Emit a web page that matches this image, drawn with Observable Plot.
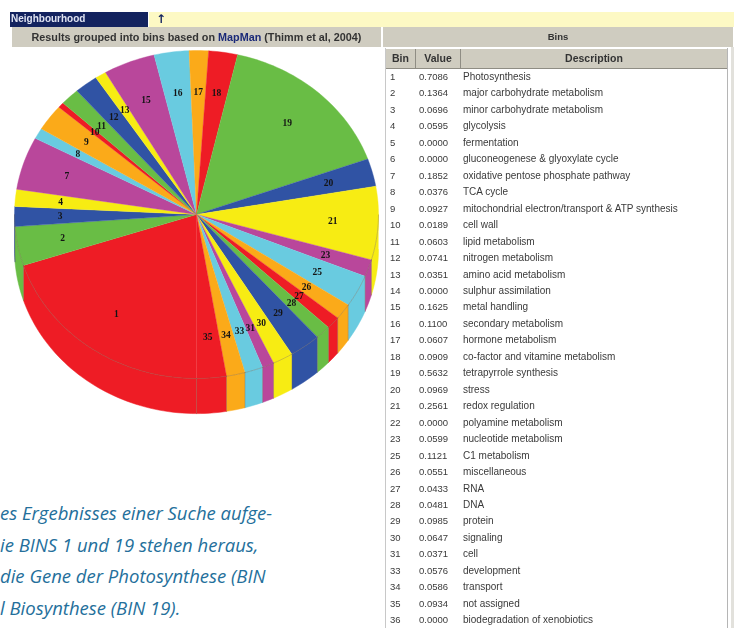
<!DOCTYPE html>
<html><head><meta charset="utf-8">
<script src="https://cdn.jsdelivr.net/npm/d3@7"></script>
<script src="https://cdn.jsdelivr.net/npm/@observablehq/plot@0.6"></script>
<style>
html,body{margin:0;padding:0;background:#fff;overflow:hidden}
#page{position:relative;width:744px;height:628px;overflow:hidden;font-family:"Liberation Sans",Arial,sans-serif}
#page>div,#chart{position:absolute}
#chart{left:0;top:0}
#chart svg{display:block;filter:blur(.6px)}
.ui{filter:blur(.7px)}
#nb{left:10px;top:12px;width:138px;height:15px;background:#13235f;color:#dfe3f2;font:bold 10px/14px "Liberation Sans";padding-left:1px;box-sizing:border-box}
#yb{left:149px;top:12px;width:585px;height:15px;background:#fdf9c4;color:#13235f;font:bold 12px/14px "DejaVu Sans";padding-left:7px;box-sizing:border-box}
#h1{left:12px;top:27px;width:369px;height:20px;background:#cfccc0;font:bold 10.8px/20px "Liberation Sans";color:#333;text-align:center;white-space:nowrap}
#h1 b{color:#1b2a78}
#h2{left:383px;top:27px;width:350px;height:20px;background:#cfccc0;font:bold 9.5px/20px "Liberation Sans";color:#333;text-align:center}
.th{top:49px;height:20px;background:#cfccc0;border-right:1px solid #8f8d84;border-bottom:1px solid #8f8d84;box-sizing:border-box;font:bold 10.5px/19px "Liberation Sans";color:#333;text-align:center}
#lb{left:385px;top:48px;width:1px;height:580px;background:#c8c8c8}
#rb{left:727px;top:48px;width:1px;height:580px;background:#b5b5b5}
#rb2{left:731px;top:47px;width:3px;height:581px;background:#e2e1dc}
.c{font:10px/12px "Liberation Sans";color:#3a3a3a;white-space:nowrap}
.n{font-size:9.5px}
.cap{left:0;font:italic 18.5px/24px "Open Sans","Noto Sans",sans-serif;color:#246f9b;white-space:nowrap}
</style></head><body>
<div id="page"></div>
<script>
const bins=[1,2,3,4,5,6,7,8,9,10,11,12,13,14,15,16,17,18,19,20,21,22,23,25,26,27,28,29,30,31,33,34,35,36];
const values=[0.7086,0.1364,0.0696,0.0595,0,0,0.1852,0.0376,0.0927,0.0189,0.0603,0.0741,0.0351,0,0.1625,0.1100,0.0607,0.0909,0.5632,0.0969,0.2561,0,0.0599,0.1121,0.0551,0.0433,0.0481,0.0985,0.0647,0.0371,0.0576,0.0586,0.0934,0];
const descriptions=["Photosynthesis","major carbohydrate metabolism","minor carbohydrate metabolism","glycolysis","fermentation","gluconeogenese & glyoxylate cycle","oxidative pentose phosphate pathway","TCA cycle","mitochondrial electron/transport & ATP synthesis","cell wall","lipid metabolism","nitrogen metabolism","amino acid metabolism","sulphur assimilation","metal handling","secondary metabolism","hormone metabolism","co-factor and vitamine metabolism","tetrapyrrole synthesis","stress","redox regulation","polyamine metabolism","nucleotide metabolism","C1 metabolism","miscellaneous","RNA","DNA","protein","signaling","cell","development","transport","not assigned","biodegradation of xenobiotics"];
const palette=["#ee1c25","#69bd45","#3053a4","#f7ec13","#b9479b","#69cbe0","#fbaa19"];
const captionLines=["es Ergebnisses einer Suche aufge-","ie BINS 1 und 19 stehen heraus,","die Gene der Photosynthese (BIN","l Biosynthese (BIN 19)."];
const startDeg=180, depth=0.214, labelR=0.75;

const page=document.getElementById("page");
function add(id,cls,style,html){const d=document.createElement("div");if(id)d.id=id;if(cls)d.className=cls;if(style)d.style.cssText=style;if(html!=null)d.innerHTML=html;page.appendChild(d);return d;}

// pie geometry derived from the values
const present=bins.map((b,i)=>({bin:b,value:values[i]})).filter(d=>d.value>0);
const total=d3.sum(present,d=>d.value);
let acc=startDeg;
present.forEach((d,i)=>{d.a0=acc;acc+=d.value/total*360;d.a1=acc;d.color=palette[i%palette.length];});
const px=a=>Math.sin(a*Math.PI/180), py=a=>-Math.cos(a*Math.PI/180);
function arc(a0,a1){const n=Math.max(2,Math.ceil((a1-a0)/1.5)),o=[];for(let k=0;k<=n;k++)o.push(a0+(a1-a0)*k/n);return o;}
const face=[],wall=[],rim=[],seam=[],labels=[];
present.forEach(d=>{
  face.push({id:d.bin,c:d.color,x:0,y:0});
  arc(d.a0,d.a1).forEach(a=>{face.push({id:d.bin,c:d.color,x:px(a),y:py(a)});rim.push({id:d.bin,x:px(a),y:py(a)});});
  labels.push({t:String(d.bin),x:labelR*px((d.a0+d.a1)/2),y:labelR*py((d.a0+d.a1)/2)});
  // visible outer wall: the part of the slice facing the viewer (bottom half)
  [0,360].forEach(off=>{
    const s=Math.max(d.a0-off,90),e=Math.min(d.a1-off,270);
    if(e>s){
      const pts=arc(s,e);
      pts.forEach(a=>wall.push({id:d.bin+"-"+off,c:d.color,x:px(a),y:py(a)}));
      pts.slice().reverse().forEach(a=>wall.push({id:d.bin+"-"+off,c:d.color,x:px(a),y:py(a)+depth}));
    }
    const b=d.a0-off;
    if(b>=90&&b<=270){seam.push({id:d.bin+"s"+off,x:px(b),y:py(b)});seam.push({id:d.bin+"s"+off,x:px(b),y:py(b)+depth});}
  });
});
const chart=Plot.plot({
  width:384,height:430,margin:0,
  x:{axis:null,domain:[-1,1],range:[14,378]},
  y:{axis:null,domain:[-1,1],range:[50,378]},
  color:{type:"identity"},
  marks:[
    Plot.line(wall,{x:"x",y:"y",z:"id",fill:"c",stroke:"c",strokeWidth:.5}),
    Plot.line(face,{x:"x",y:"y",z:"id",fill:"c",stroke:"c",strokeWidth:.4}),
    Plot.line(seam,{x:"x",y:"y",z:"id",stroke:"#7d6a55",strokeOpacity:.45,strokeWidth:.8}),
    Plot.line(rim,{x:"x",y:"y",z:"id",stroke:"#7d6a55",strokeOpacity:.45,strokeWidth:.8,
      filter:d=>d.y>-0.01}),
    Plot.text(labels,{x:"x",y:"y",text:"t",fill:"#141414",fontSize:9.5,fontWeight:"bold",fontFamily:"Liberation Serif"})
  ]
});
const holder=add("chart");holder.appendChild(chart);

// window chrome
add("nb","ui",null,"Neighbourhood");
add("yb","ui",null,"&#8593;");
add("h1","ui",null,"Results grouped into bins based on <b>MapMan</b> (Thimm et al, 2004)");
add("h2","ui",null,"Bins");
add("","th ui","left:386px;width:30px","Bin");
add("","th ui","left:416px;width:45px","Value");
add("","th ui","left:461px;width:267px","Description");
add("lb","ui");add("rb","ui");add("rb2","ui");

// table rows
bins.forEach((b,i)=>{
  const y=71+i*16.46;
  add("","c n ui",`left:390px;top:${y}px`,String(b));
  add("","c n ui",`left:419px;top:${y}px`,values[i].toFixed(4));
  add("","c ui",`left:463px;top:${y}px`,descriptions[i].replace("&","&amp;"));
});
// caption
captionLines.forEach((t,i)=>add("","cap",`top:${501+i*31.7}px`,t));
</script>
</body></html>
